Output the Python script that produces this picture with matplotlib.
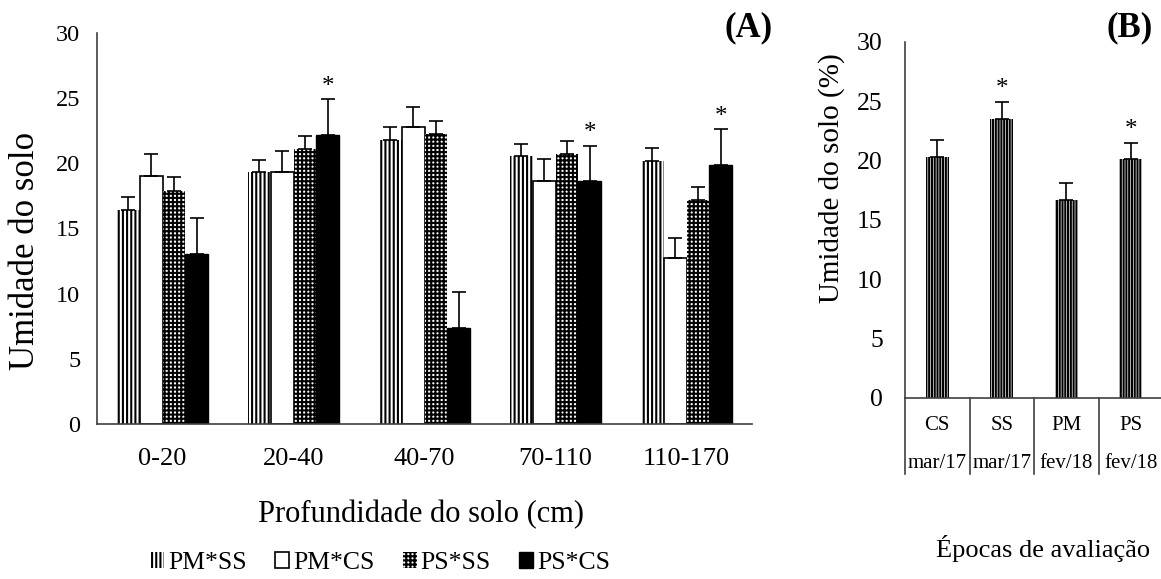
import numpy as np
import matplotlib
matplotlib.use("Agg")
import matplotlib.pyplot as plt
from matplotlib.patches import Patch

plt.rcParams['font.family'] = ['Liberation Serif', 'DejaVu Serif']
plt.rcParams['hatch.linewidth'] = 1.5

# Panel A: soil moisture by depth and treatment
depths = ["0-20", "20-40", "40-70", "70-110", "110-170"]
treatments = ["PM*SS", "PM*CS", "PS*SS", "PS*CS"]
pm_ss = [16.4, 19.3, 21.8, 20.6, 20.2]
pm_cs = [19.05, 19.3, 22.75, 18.65, 12.7]
ps_ss = [17.9, 21.1, 22.25, 20.7, 17.2]
ps_cs = [13.05, 22.2, 7.4, 18.65, 19.9]
pm_ss_err = [1.0, 0.95, 0.95, 0.9, 0.95]
pm_cs_err = [1.65, 1.65, 1.6, 1.65, 1.6]
ps_ss_err = [1.05, 1.0, 1.0, 1.0, 1.0]
ps_cs_err = [2.75, 2.7, 2.7, 2.7, 2.7]
# significance markers (index of depth) for PS*CS
ps_cs_star = [1, 3, 4]

# Panel B: soil moisture by evaluation period
periods = ["CS", "SS", "PM", "PS"]
period_dates = ["mar/17", "mar/17", "fev/18", "fev/18"]
period_vals = [20.3, 23.5, 16.7, 20.1]
period_err = [1.4, 1.45, 1.4, 1.4]
period_star = [1, 3]

W, H = 1161, 579
fig = plt.figure(figsize=(W / 100, H / 100), dpi=100)

axA = fig.add_axes([97 / W, 1 - 424 / H, (752 - 97) / W, (424 - 33) / H])
axB = fig.add_axes([905 / W, 1 - 398 / H, (1163 - 905) / W, (398 - 41.7) / H])

series = [pm_ss, pm_cs, ps_ss, ps_cs]
errs = [pm_ss_err, pm_cs_err, ps_ss_err, ps_cs_err]
styles = [
    dict(facecolor="white", edgecolor="black", hatch="||||", linewidth=0),
    dict(facecolor="white", edgecolor="black", hatch=None, linewidth=1.2),
    dict(facecolor="white", edgecolor="black", hatch="++++", linewidth=0),
    dict(facecolor="black", edgecolor="black", hatch=None, linewidth=1.0),
]

x = np.arange(len(depths))
bw = 0.175
for i, (vals, e, st) in enumerate(zip(series, errs, styles)):
    pos = x + (i - 1.5) * bw
    axA.bar(pos, vals, width=bw, **st, zorder=2)
    axA.errorbar(pos, vals, yerr=[np.zeros(len(vals)), e], fmt="none",
                 ecolor="black", elinewidth=1.2, capsize=5, capthick=1.2, zorder=3)

for k in ps_cs_star:
    xp = x[k] + 1.5 * bw
    axA.text(xp, ps_cs[k] + ps_cs_err[k] + 0.1, "*", ha="center", va="bottom",
             fontsize=18)

axA.set_xlim(-0.5, len(depths) - 0.5)
axA.set_ylim(0, 30)
axA.set_yticks(range(0, 31, 5))
axA.set_xticks(x)
axA.set_xticklabels(depths)
axA.tick_params(axis="both", length=0)
axA.tick_params(axis="y", pad=12, labelsize=17.5)
axA.tick_params(axis="x", pad=17, labelsize=19)
for s in ["top", "right"]:
    axA.spines[s].set_visible(False)
for s in ["left", "bottom"]:
    axA.spines[s].set_color("#404040")
    axA.spines[s].set_linewidth(1.2)

fig.text(421 / W, 1 - 515 / H, "Profundidade do solo (cm)", ha="center",
         va="center", fontsize=22)
fig.text(25 / W, 1 - 251 / H, "Umidade do solo", rotation=90, ha="center",
         va="center", fontsize=25)
fig.text(773 / W, 1 - 28 / H, "(A)", ha="right", va="center",
         fontsize=25, fontweight="bold")

handles = [Patch(**st, label=t) for st, t in zip(styles, treatments)]
fig.legend(handles=handles, loc="center", bbox_to_anchor=(380 / W, 1 - 563 / H),
           ncol=4, frameon=False, fontsize=18.5, handlelength=0.55,
           handleheight=0.55, handletextpad=0.15, columnspacing=1.1)

# Panel B
xb = np.arange(len(periods))
axB.bar(xb, period_vals, width=0.36, facecolor="white", edgecolor="black",
        hatch="||||||", linewidth=0, zorder=2)
axB.errorbar(xb, period_vals, yerr=[np.zeros(len(xb)), period_err], fmt="none",
             ecolor="black", elinewidth=1.2, capsize=5, capthick=1.2, zorder=3)
for k in period_star:
    axB.text(xb[k], period_vals[k] + period_err[k] + 0.1, "*", ha="center",
             va="bottom", fontsize=18)
axB.set_xlim(-0.5, len(periods) - 0.5)
axB.set_ylim(0, 30)
axB.set_yticks(range(0, 31, 5))
axB.set_xticks([])
axB.tick_params(axis="y", length=0, labelsize=18.5, pad=16)
for s in ["top", "right"]:
    axB.spines[s].set_visible(False)
for s in ["left", "bottom"]:
    axB.spines[s].set_color("#404040")
    axB.spines[s].set_linewidth(1.2)

trans = axB.get_xaxis_transform()
for b in np.arange(len(periods) + 1) - 0.5:
    axB.plot([b, b], [0, -0.212], transform=trans, color="#404040", lw=1.2,
             clip_on=False)
for k, (p, d) in enumerate(zip(periods, period_dates)):
    axB.text(xb[k], -0.076, p, transform=trans, ha="center", va="center",
             fontsize=15)
    axB.text(xb[k], -0.183, d, transform=trans, ha="center", va="center",
             fontsize=15)

fig.text(832 / W, 1 - 178 / H, "Umidade do solo (%)", rotation=90, ha="center",
         va="center", fontsize=21)
fig.text(1153 / W, 1 - 28 / H, "(B)", ha="right", va="center",
         fontsize=25, fontweight="bold")
fig.text(1043 / W, 1 - 548 / H, "Épocas de avaliação", ha="center", va="center",
         fontsize=19)

fig.savefig("out.png", dpi=100)
